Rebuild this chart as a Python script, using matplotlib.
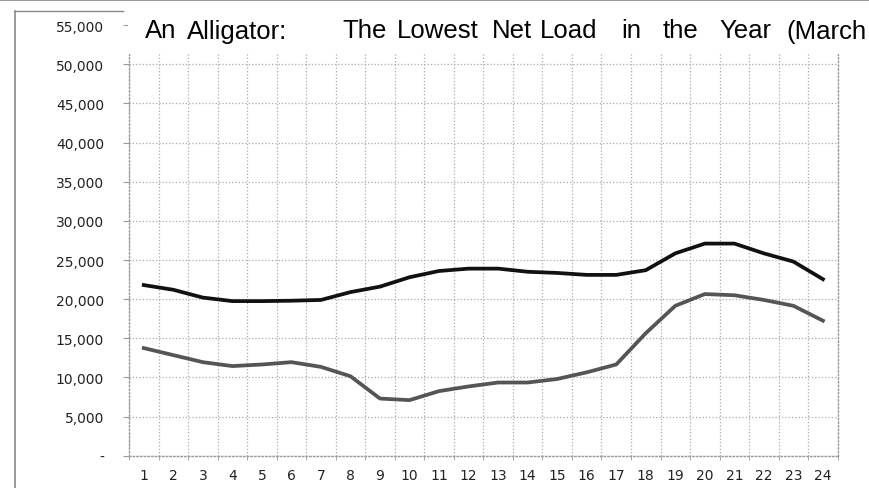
import matplotlib

matplotlib.use("Agg")
import matplotlib.pyplot as plt
from matplotlib.lines import Line2D
from matplotlib.patches import Rectangle
from matplotlib.ticker import FixedLocator, FuncFormatter

# hourly values (MW)
hours = [1, 2, 3, 4, 5, 6, 7, 8, 9, 10, 11, 12,
         13, 14, 15, 16, 17, 18, 19, 20, 21, 22, 23, 24]
load_mw = [21800, 21200, 20200, 19750, 19750, 19800, 19900, 20900, 21600, 22800, 23600, 23900,
           23900, 23500, 23350, 23100, 23100, 23700, 25850, 27100, 27100, 25850, 24800, 22550]
net_load_mw = [13750, 12850, 11950, 11450, 11650, 11950, 11350, 10150, 7300, 7100, 8250, 8850,
               9350, 9350, 9800, 10650, 11650, 15650, 19150, 20650, 20500, 19900, 19150, 17250]
y_ticks = [0, 5000, 10000, 15000, 20000, 25000, 30000, 35000, 40000, 45000, 50000, 55000]
title_words = ["An", "Alligator:", "The", "Lowest", "Net", "Load", "in", "the", "Year", "(March"]

W, H = 869, 489
fig = plt.figure(figsize=(W / 100, H / 100), dpi=100)
ax = fig.add_axes([129 / W, 1 - 456.7 / H, (837.7 - 129) / W, (456.7 - 26.2) / H])

ax.plot(hours, load_mw, color="#111111", lw=2.7, solid_joinstyle="round", zorder=3)
ax.plot(hours, net_load_mw, color="#555555", lw=2.7, solid_joinstyle="round", zorder=3)

ax.set_xlim(0.5, 24.5)
ax.set_ylim(0, 55000)

ax.xaxis.set_major_locator(FixedLocator(hours))
ax.xaxis.set_minor_locator(FixedLocator([h - 0.5 for h in hours] + [hours[-1] + 0.5]))
ax.yaxis.set_major_locator(FixedLocator(y_ticks))
ax.yaxis.set_major_formatter(FuncFormatter(lambda v, p: "-" if v == 0 else f"{int(v):,}"))

ax.tick_params(axis="x", which="major", length=0, pad=9, labelsize=10, labelcolor="#222222")
ax.tick_params(axis="x", which="minor", length=3, color="#999999", direction="out")
ax.tick_params(axis="y", which="major", length=4, pad=14, labelsize=10, labelcolor="#222222",
               color="#999999")

ax.grid(which="minor", axis="x", color="#ababab", ls=":", lw=0.9)
ax.grid(which="major", axis="y", color="#ababab", ls=":", lw=0.9)
ax.set_axisbelow(True)

for side in ["left", "bottom", "right"]:
    ax.spines[side].set_color("#999999")
    ax.spines[side].set_linestyle(":")
    ax.spines[side].set_linewidth(1.0)
ax.spines["top"].set_visible(False)

# white title band over the top of the plot area, like the source chart
fig.add_artist(Rectangle((128 / W, 1 - 55 / H), (W - 128) / W, 30 / H,
                         transform=fig.transFigure, facecolor="white", edgecolor="none", zorder=1))
word_x = [145, 187, 342, 397, 492, 540, 621, 663, 719, 786]
for word, x in zip(title_words, word_x):
    fig.text(x / W, 1 - 38.5 / H, word, fontsize=18.5, family="Liberation Sans",
             color="black", ha="left", va="baseline", zorder=2)

# outer frame pieces of the cropped chart
fig.add_artist(Line2D([0, 1], [1 - 0.5 / H, 1 - 0.5 / H], transform=fig.transFigure,
                      color="#888888", lw=1.2))
fig.add_artist(Line2D([15 / W, 15 / W], [0, 1 - 12 / H], transform=fig.transFigure,
                      color="#888888", lw=1.2))
fig.add_artist(Line2D([15 / W, 123 / W], [1 - 12 / H, 1 - 12 / H], transform=fig.transFigure,
                      color="#888888", lw=1.0))

fig.savefig("out.png", dpi=100)
